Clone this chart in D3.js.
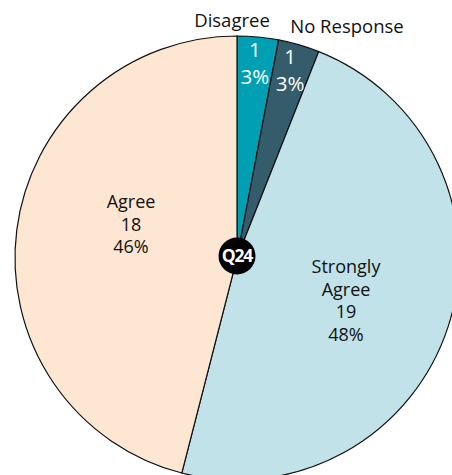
<!DOCTYPE html>
<html><head><meta charset="utf-8">
<script src="https://cdn.jsdelivr.net/npm/d3@7"></script>
<style>body{margin:0;background:#fff}svg{display:block}</style>
</head><body>
<svg id="c" width="452" height="475"></svg>
<script>
const categories = ["Disagree", "No Response", "Strongly Agree", "Agree"];
const counts = [1, 1, 19, 18];
const percentValues = [3, 3, 48, 46];
const colors = ["#009fb3", "#355c6b", "#c0e2e8", "#fde6d2"];
const centerTitle = "Q24";

const svg = d3.select("#c");
const cx = 237, cy = 258, r = 222;
const g = svg.append("g").attr("transform", `translate(${cx},${cy})`);
const pie = d3.pie().sort(null).value(d => d.v);
const data = categories.map((c, i) => ({c, v: percentValues[i], n: counts[i], col: colors[i]}));
const arcs = pie(data);
const arc = d3.arc().innerRadius(0).outerRadius(r);

g.selectAll("path").data(arcs).join("path")
  .attr("d", arc).attr("fill", d => d.data.col)
  .attr("stroke", "#111").attr("stroke-width", 1.2);

const font = "'Open Sans', 'Noto Sans', sans-serif";
function lines(x, y, arr, fill, lh, fs) {
  const t = svg.append("text").attr("x", x).attr("y", y).attr("text-anchor", "middle")
    .attr("font-family", font).attr("font-size", fs || 18).attr("fill", fill);
  arr.forEach((s, i) => t.append("tspan").attr("x", x).attr("dy", i ? lh : 0).text(s));
}
// small slice inside labels
const small = d3.arc().innerRadius(190).outerRadius(190);
[0, 1].forEach(i => {
  const [x, y] = small.centroid(arcs[i]);
  lines(cx + x, cy + y - 12, [String(counts[i]), percentValues[i] + "%"], "#fff", 27, 20.5);
});
// outside labels for small slices
lines(232, 27, [categories[0]], "#111", 0, 18.5);
lines(347, 33, [categories[1]], "#111", 0, 18.5);
// large slices
lines(346, 273, ["Strongly", "Agree", String(counts[2]), percentValues[2] + "%"], "#111", 22.5);
lines(131, 208, [categories[3], String(counts[3]), percentValues[3] + "%"], "#111", 22.5);

// center badge
svg.append("circle").attr("cx", cx).attr("cy", cy - 2).attr("r", 18.5).attr("fill", "#000");
svg.append("text").attr("x", cx).attr("y", cy + 4).attr("text-anchor", "middle")
  .attr("font-family", "'Open Sans', sans-serif").attr("font-weight", "bold")
  .attr("font-size", 17.5).attr("letter-spacing", -1.2).attr("fill", "#fff").text(centerTitle);
</script>
</body></html>
